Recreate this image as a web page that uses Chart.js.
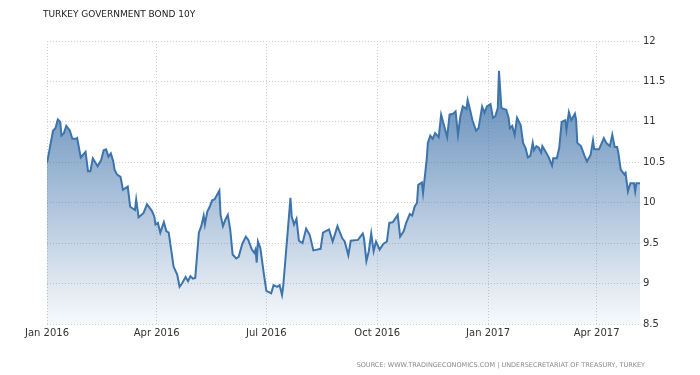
<!DOCTYPE html>
<html>
<head>
<meta charset="utf-8">
<script src="https://cdn.jsdelivr.net/npm/chart.js@4.4.1/dist/chart.umd.min.js"></script>
<style>
  body { margin: 0; background: #fff; }
  #wrap { width: 700px; height: 375px; position: relative; }
</style>
</head>
<body>
<div id="wrap"><canvas id="bondChart"></canvas></div>
<script>
// Textos del gráfico
const chartTitle = 'TURKEY GOVERNMENT BOND 10Y';
const sourceText = 'SOURCE: WWW.TRADINGECONOMICS.COM | UNDERSECRETARIAT OF TREASURY, TURKEY';

// Días desde el 1 de enero de 2016 y rendimiento (%)
const days = [0, 5, 7, 9, 11, 12, 14, 16, 19, 21, 24, 25, 28, 32, 34, 36, 38, 42, 45, 47,
  49, 51, 53, 55, 56, 58, 61, 63, 67, 69, 73, 74, 76, 80, 83, 87, 89, 90, 92, 94,
  97, 99, 101, 105, 108, 110, 112, 115, 117, 119, 121, 123, 126, 128, 130, 131, 133, 135, 137, 139,
  143, 144, 146, 148, 150, 152, 154, 157, 159, 162, 165, 167, 170, 172, 173, 174, 175, 177, 180, 182,
  186, 188, 191, 193, 195, 196, 202, 203, 205, 207, 209, 212, 215, 218, 221, 224, 227, 229, 234, 237,
  241, 242, 245, 247, 250, 252, 258, 262, 263, 265, 267, 269, 271, 273, 276, 279, 282, 284, 287, 291,
  293, 296, 298, 301, 303, 305, 307, 308, 311, 312, 315, 316, 318, 320, 322, 325, 327, 329, 332, 334,
  337, 339, 341, 343, 345, 348, 349, 351, 353, 356, 358, 361, 363, 365, 368, 370, 372, 374, 375, 377,
  381, 383, 384, 386, 388, 390, 393, 395, 397, 399, 401, 403, 404, 406, 408, 410, 411, 413, 416, 419,
  420, 423, 425, 427, 430, 431, 433, 435, 438, 439, 440, 443, 446, 448, 451, 453, 454, 458, 462, 464,
  467, 469, 471, 473, 474, 476, 479, 480, 482, 484, 487, 488, 489, 492];
const yields = [10.49, 10.89, 10.92, 11.03, 11.00, 10.83, 10.86, 10.95, 10.89, 10.79, 10.79, 10.80, 10.56, 10.63, 10.39, 10.39, 10.55, 10.45, 10.53, 10.65,
  10.66, 10.57, 10.61, 10.51, 10.41, 10.35, 10.32, 10.16, 10.20, 9.95, 9.91, 10.04, 9.82, 9.87, 9.98, 9.90, 9.83, 9.73, 9.75, 9.63,
  9.76, 9.65, 9.63, 9.21, 9.11, 8.96, 9.00, 9.08, 9.03, 9.09, 9.06, 9.07, 9.63, 9.71, 9.84, 9.73, 9.89, 9.95, 10.03, 10.04,
  10.15, 9.85, 9.71, 9.79, 9.85, 9.67, 9.36, 9.31, 9.33, 9.49, 9.58, 9.54, 9.42, 9.38, 9.42, 9.26, 9.52, 9.44, 9.11, 8.91,
  8.88, 8.98, 8.96, 8.98, 8.86, 8.97, 10.06, 9.83, 9.73, 9.80, 9.53, 9.50, 9.68, 9.60, 9.41, 9.42, 9.43, 9.63, 9.67, 9.52,
  9.71, 9.67, 9.56, 9.52, 9.35, 9.53, 9.54, 9.62, 9.56, 9.28, 9.40, 9.62, 9.40, 9.52, 9.42, 9.49, 9.52, 9.75, 9.76, 9.85,
  9.58, 9.65, 9.75, 9.86, 9.84, 9.95, 10.00, 10.22, 10.25, 10.12, 10.53, 10.74, 10.83, 10.79, 10.86, 10.81, 11.09, 10.98, 10.81, 11.09,
  11.10, 11.13, 10.84, 11.07, 11.19, 11.16, 11.27, 11.15, 11.02, 10.89, 10.92, 11.19, 11.11, 11.19, 11.22, 11.05, 11.07, 11.17, 11.63, 11.17,
  11.15, 11.05, 10.92, 10.95, 10.84, 11.05, 10.96, 10.74, 10.68, 10.56, 10.58, 10.74, 10.65, 10.70, 10.68, 10.62, 10.70, 10.65, 10.57, 10.46,
  10.55, 10.55, 10.68, 11.00, 11.02, 10.90, 11.12, 11.02, 11.10, 11.02, 10.74, 10.70, 10.58, 10.51, 10.59, 10.77, 10.66, 10.66, 10.80, 10.74,
  10.70, 10.84, 10.69, 10.69, 10.62, 10.41, 10.35, 10.37, 10.14, 10.24, 10.24, 10.14, 10.24, 10.24];

// Etiquetas del eje X
const tickDays = [0, 91, 182, 274, 366, 456];
const tickLabels = ['Jan 2016', 'Apr 2016', 'Jul 2016', 'Oct 2016', 'Jan 2017', 'Apr 2017'];

// Título y fuente dibujados sobre el canvas
const textPlugin = {
  id: 'textos',
  afterDraw(chart) {
    const c = chart.ctx;
    c.save();
    c.textBaseline = 'middle';
    c.fillStyle = '#222';
    c.font = '9px "DejaVu Sans"';
    c.textAlign = 'left';
    c.fillText(chartTitle, 43, 15);
    c.fillStyle = '#8a8a8a';
    c.font = '6.5px "DejaVu Sans"';
    c.textAlign = 'right';
    c.fillText(sourceText, 645, 365);
    c.restore();
  }
};

const ctx = document.getElementById('bondChart').getContext('2d');
new Chart(ctx, {
  type: 'line',
  data: {
    datasets: [{
      label: chartTitle,
      data: days.map((d, i) => ({ x: d, y: yields[i] })),
      borderColor: '#3d74ab',
      borderWidth: 2,
      pointRadius: 0,
      tension: 0,
      fill: 'start',
      backgroundColor: (context) => {
        const { ctx, chartArea } = context.chart;
        if (!chartArea) return 'rgba(61,116,171,0.5)';
        const g = ctx.createLinearGradient(0, chartArea.top, 0, chartArea.bottom);
        g.addColorStop(0, 'rgba(50,105,165,0.88)');
        g.addColorStop(1, 'rgba(50,105,165,0.04)');
        return g;
      }
    }]
  },
  options: {
    responsive: true,
    maintainAspectRatio: false,
    animation: false,
    layout: { padding: { top: 41, left: 47, right: 0, bottom: 0 } },
    plugins: {
      legend: { display: false },
      tooltip: { enabled: false }
    },
    scales: {
      x: {
        type: 'linear',
        min: 0,
        max: 492,
        afterBuildTicks: (scale) => { scale.ticks = tickDays.map(v => ({ value: v })); },
        afterFit: (scale) => { scale.height = 51; },
        ticks: {
          autoSkip: false,
          maxRotation: 0,
          padding: 3,
          color: '#333',
          font: { family: 'DejaVu Sans', size: 10 },
          callback: (v) => tickLabels[tickDays.indexOf(v)]
        },
        grid: { color: '#cfcfcf', drawTicks: false },
        border: { display: false, dash: [1, 2] }
      },
      y: {
        position: 'right',
        min: 8.5,
        max: 12,
        afterFit: (scale) => { scale.width = 60; },
        ticks: {
          stepSize: 0.5,
          padding: 3,
          color: '#333',
          font: { family: 'DejaVu Sans', size: 10 },
          callback: (v) => String(Number(v.toFixed(1)))
        },
        grid: { color: '#cfcfcf', drawTicks: false },
        border: { display: false, dash: [1, 2] }
      }
    }
  },
  plugins: [textPlugin]
});
</script>
</body>
</html>
